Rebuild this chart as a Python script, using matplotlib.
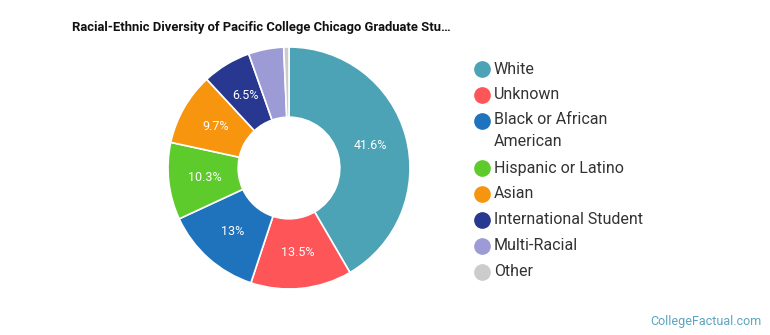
import matplotlib.pyplot as plt
import numpy as np

labels = ['White', 'Unknown', 'Black or African\nAmerican', 'Hispanic or Latino',
          'Asian', 'International Student', 'Multi-Racial', 'Other']
values = [41.6, 13.5, 13.0, 10.3, 9.7, 6.5, 4.7, 0.7]
pct_text = ['41.6%', '13.5%', '13%', '10.3%', '9.7%', '6.5%', '', '']
colors = ['#4ca3b6', '#fd5558', '#1f73bd', '#5ecb2c', '#f7950f', '#283891', '#9d9bd5', '#cccccc']

plt.rcParams['font.family'] = ['Roboto', 'DejaVu Sans']

W, H = 770, 335
fig = plt.figure(figsize=(W/100, H/100), dpi=100)

cx, cy, R = 289, 168, 121
ax = fig.add_axes([(cx-R)/W, (H-cy-R)/H, 2*R/W, 2*R/H])
wedges, _ = ax.pie(values, colors=colors, startangle=90, counterclock=False, radius=1,
                   wedgeprops=dict(width=0.58, edgecolor='white', linewidth=1.2))
ax.set_xlim(-1, 1)
ax.set_ylim(-1, 1)
ax.set_aspect('equal')
ax.axis('off')

# percent labels in the middle of the ring
for w, t in zip(wedges, pct_text):
	if not t:
		continue
	ang = np.deg2rad((w.theta1 + w.theta2) / 2)
	r = 0.70
	ax.text(r*np.cos(ang), r*np.sin(ang), t, ha='center', va='center',
	        color='white', fontsize=9)

fig.text(261/W, 1-27/H, 'Racial-Ethnic Diversity of Pacific College Chicago Graduate Stu\u2026',
         ha='center', va='center', fontsize=9.4, fontweight='bold', color='#111111')

# legend
ys = [69, 95, 121, 168, 194, 220, 246, 272]
for lab, c, y in zip(labels, colors, ys):
	fig.lines.append(plt.Line2D([482/W], [1-y/H], marker='o', markersize=11,
	                            color=c, transform=fig.transFigure))
	if '\n' in lab:
		fig.text(494/W, 1-(y-9)/H, lab, ha='left', va='top', fontsize=11.5,
		         color='#333333', linespacing=1.55)
	else:
		fig.text(494/W, 1-y/H, lab, ha='left', va='center', fontsize=11.5,
		         color='#333333')

fig.text(706/W, 1-321/H, 'CollegeFactual.com', ha='center', va='center',
         fontsize=9, color='#5aa5bf')

fig.savefig('out.png', dpi=100)
